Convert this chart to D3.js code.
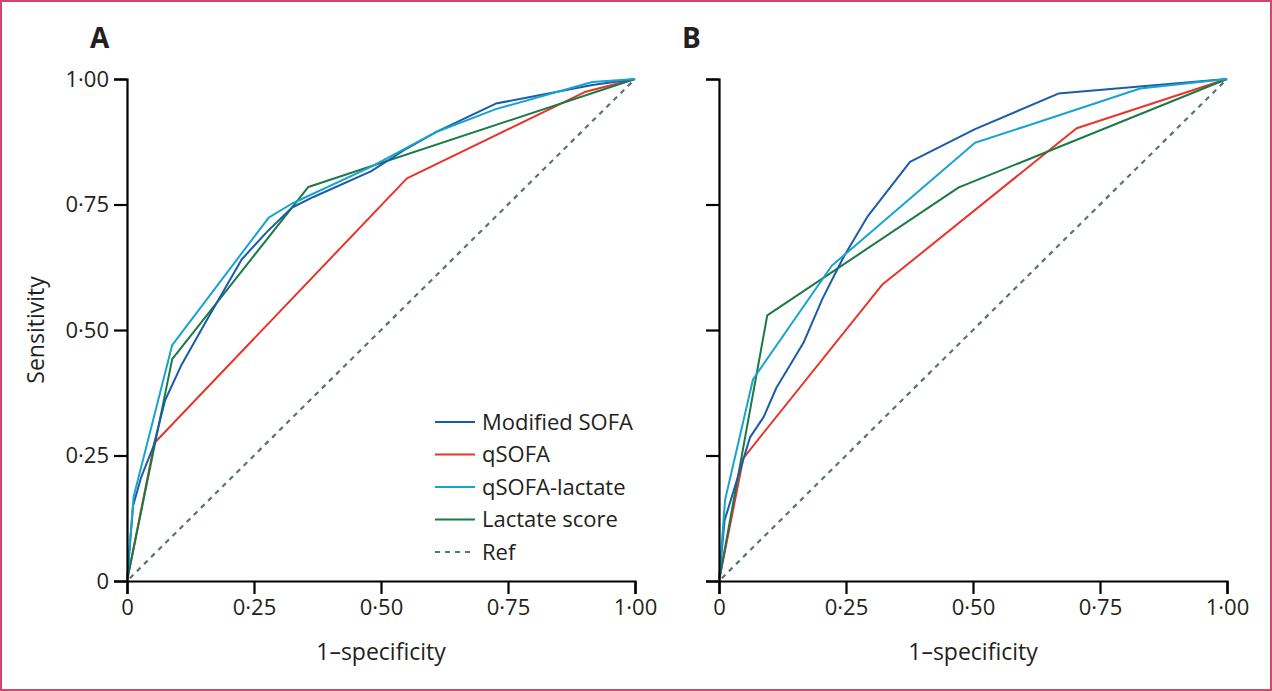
<!DOCTYPE html>
<html>
<head>
<meta charset="utf-8">
<script src="https://cdn.jsdelivr.net/npm/d3@7"></script>
<style>
  html, body { margin: 0; padding: 0; background: #fff; }
  svg { display: block; }
  text { font-family: "Open Sans", "Noto Sans", sans-serif; fill: #231f20; }
</style>
</head>
<body>
<script>
// ---- Data (false positive rate = 1-specificity, sensitivity) ----
const seriesNames = ["Modified SOFA", "qSOFA", "qSOFA-lactate", "Lactate score", "Ref"];
const seriesColors = ["#1b5ca8", "#e8342b", "#19a3cf", "#1b7a43", "#5c707c"];
const tickValues = [0, 0.25, 0.5, 0.75, 1];
const tickLabels = ["0", "0·25", "0·50", "0·75", "1·00"];

// Panel A
const aModSOFA_x = [0, 0.012, 0.028, 0.052, 0.075, 0.108, 0.156, 0.226, 0.276, 0.325, 0.367, 0.48, 0.55, 0.61, 0.726, 0.916, 1];
const aModSOFA_y = [0, 0.15, 0.207, 0.268, 0.36, 0.432, 0.518, 0.641, 0.696, 0.744, 0.765, 0.816, 0.861, 0.895, 0.951, 0.988, 1];
const aQSOFA_x = [0, 0.054, 0.551, 0.901, 1];
const aQSOFA_y = [0, 0.275, 0.802, 0.974, 1];
const aQLact_x = [0, 0.013, 0.089, 0.279, 0.325, 0.48, 0.61, 0.726, 0.916, 1];
const aQLact_y = [0, 0.168, 0.470, 0.724, 0.752, 0.825, 0.895, 0.94, 0.994, 1];
const aLact_x = [0, 0.089, 0.357, 1];
const aLact_y = [0, 0.442, 0.785, 1];

// Panel B
const bModSOFA_x = [0, 0.011, 0.035, 0.061, 0.088, 0.113, 0.166, 0.204, 0.245, 0.293, 0.376, 0.504, 0.668, 1];
const bModSOFA_y = [0, 0.121, 0.2, 0.286, 0.327, 0.385, 0.474, 0.563, 0.645, 0.727, 0.835, 0.9, 0.971, 1];
const bQSOFA_x = [0, 0.048, 0.321, 0.704, 1];
const bQSOFA_y = [0, 0.245, 0.59, 0.902, 1];
const bQLact_x = [0, 0.012, 0.067, 0.222, 0.504, 0.61, 0.829, 1];
const bQLact_y = [0, 0.162, 0.402, 0.628, 0.873, 0.908, 0.981, 1];
const bLact_x = [0, 0.095, 0.472, 1];
const bLact_y = [0, 0.529, 0.784, 1];

const refLine_x = [0, 1];
const refLine_y = [0, 1];

const zip = (xs, ys) => xs.map((x, i) => [x, ys[i]]);

const panels = [
  { label: "A", left: 127, showYLabels: true, showLegend: true,
    series: [zip(aModSOFA_x, aModSOFA_y), zip(aQSOFA_x, aQSOFA_y), zip(aQLact_x, aQLact_y), zip(aLact_x, aLact_y), zip(refLine_x, refLine_y)] },
  { label: "B", left: 719, showYLabels: false, showLegend: false,
    series: [zip(bModSOFA_x, bModSOFA_y), zip(bQSOFA_x, bQSOFA_y), zip(bQLact_x, bQLact_y), zip(bLact_x, bLact_y), zip(refLine_x, refLine_y)] }
];

const W = 1272, H = 691;
const plotTop = 79, plotBottom = 581, plotW = 508;

const svg = d3.select("body").append("svg").attr("width", W).attr("height", H);

// border
svg.append("rect").attr("x", 1).attr("y", 1).attr("width", W - 2).attr("height", H - 2)
  .attr("fill", "none").attr("stroke", "#d2466f").attr("stroke-width", 2);

panels.forEach(p => {
  const x = d3.scaleLinear().domain([0, 1]).range([p.left, p.left + plotW]);
  const y = d3.scaleLinear().domain([0, 1]).range([plotBottom, plotTop]);
  const g = svg.append("g");

  const line = d3.line().x(d => x(d[0])).y(d => y(d[1]));
  const order = [4, 1, 3, 0, 2];
  order.forEach(i => {
    g.append("path").datum(p.series[i])
      .attr("d", line)
      .attr("fill", "none")
      .attr("stroke", seriesColors[i])
      .attr("stroke-width", i === 4 ? 2.2 : 2)
      .attr("stroke-dasharray", i === 4 ? "5,5" : null)
      .attr("stroke-dashoffset", i === 4 ? -4 : null)
      .attr("stroke-linejoin", "round");
  });

  const xAxis = d3.axisBottom(x).tickValues(tickValues).tickFormat((d, i) => tickLabels[i])
    .tickSize(13).tickSizeOuter(13).tickPadding(5);
  const yAxis = d3.axisLeft(y).tickValues(tickValues)
    .tickFormat((d, i) => p.showYLabels ? tickLabels[i] : "")
    .tickSize(13).tickSizeOuter(13).tickPadding(5);

  const gx = g.append("g").attr("transform", `translate(0,${plotBottom})`).call(xAxis);
  const gy = g.append("g").attr("transform", `translate(${p.left},0)`).call(yAxis);
  [gx, gy].forEach(a => {
    a.selectAll("path, line").attr("stroke", "#000").attr("stroke-width", 2.2);
    a.selectAll("text").attr("font-size", 22).attr("fill", "#231f20")
      .attr("font-family", '"Open Sans", sans-serif');
  });

  g.append("text").attr("x", x(0.5)).attr("y", 660).attr("text-anchor", "middle")
    .attr("font-size", 23).text("1–specificity");

  g.append("text").attr("x", p.left - 37).attr("y", 48).attr("font-size", 28)
    .attr("font-weight", "bold").text(p.label);

  if (p.showYLabels) {
    g.append("text").attr("transform", `translate(44,${(plotTop + plotBottom) / 2}) rotate(-90)`)
      .attr("text-anchor", "middle").attr("font-size", 23).text("Sensitivity");
  }

  if (p.showLegend) {
    const lg = g.append("g").attr("transform", "translate(435,422)");
    seriesNames.forEach((name, i) => {
      const row = lg.append("g").attr("transform", `translate(0,${i * 32.5})`);
      row.append("line").attr("x1", 0).attr("x2", 40).attr("y1", 0).attr("y2", 0)
        .attr("stroke", seriesColors[i]).attr("stroke-width", 2.2)
        .attr("stroke-dasharray", i === 4 ? "5,5" : null);
      row.append("text").attr("x", 47).attr("y", 0).attr("dy", "0.35em")
        .attr("font-size", 22).text(name);
    });
  }
});
</script>
</body>
</html>
